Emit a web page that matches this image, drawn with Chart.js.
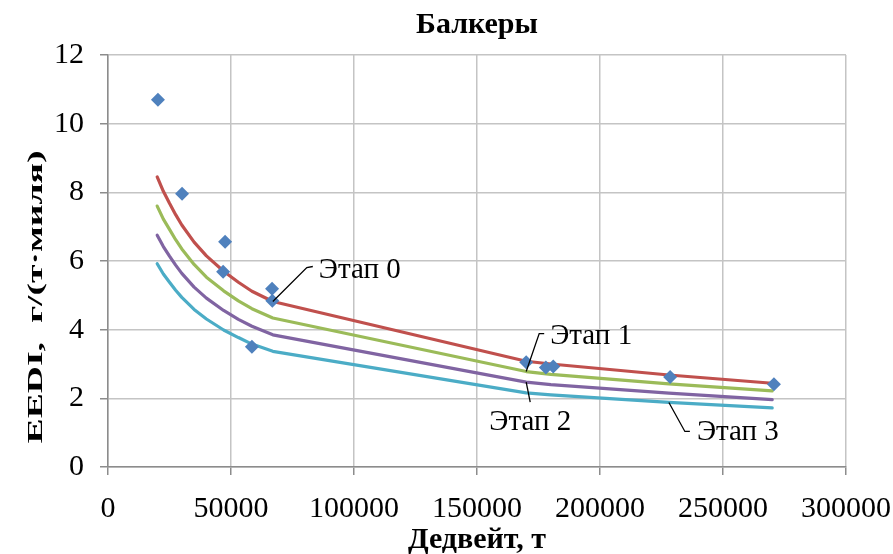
<!DOCTYPE html>
<html>
<head>
<meta charset="utf-8">
<script src="https://cdn.jsdelivr.net/npm/chart.js@4/dist/chart.umd.min.js"></script>
<style>
  html, body { margin: 0; padding: 0; background: #ffffff; }
  #wrap { width: 893px; height: 554px; position: relative; }
</style>
</head>
<body>
<div id="wrap"><canvas id="c" width="893" height="554"></canvas></div>
<script>
// Дедвейт (т) for the reference lines
const lineDwt = [20000, 22500, 25000, 27500, 30000, 35000, 40000, 47000, 53000, 58500, 67000, 170000, 180000, 228000, 270000];
// EEDI reference lines, г/(т·миля)
const stage0 = [8.45, 8.03, 7.68, 7.35, 7.05, 6.55, 6.15, 5.70, 5.38, 5.12, 4.82, 3.08, 3.00, 2.68, 2.44];
const stage1 = [7.60, 7.22, 6.92, 6.62, 6.35, 5.90, 5.53, 5.13, 4.84, 4.61, 4.34, 2.78, 2.70, 2.42, 2.22];
const stage2 = [6.75, 6.42, 6.14, 5.88, 5.64, 5.24, 4.92, 4.56, 4.30, 4.10, 3.85, 2.47, 2.40, 2.15, 1.96];
const stage3 = [5.92, 5.62, 5.38, 5.15, 4.94, 4.59, 4.31, 3.99, 3.77, 3.58, 3.37, 2.16, 2.10, 1.88, 1.72];
// Individual bulk carriers
const shipDwt  = [20300, 30100, 47600, 46800, 66700, 66800, 58500, 170000, 178000, 181000, 228500, 270700];
const shipEedi = [10.70, 7.96, 6.56, 5.69, 5.19, 4.84, 3.50, 3.05, 2.90, 2.93, 2.62, 2.41];
// Axis ticks
const xTicks = [0, 50000, 100000, 150000, 200000, 250000, 300000];
const yTicks = [0, 2, 4, 6, 8, 10, 12];
const stageNames = ['Этап 0', 'Этап 1', 'Этап 2', 'Этап 3'];

const SERIF = '"Liberation Serif", "Times New Roman", serif';

const toXY = (xs, ys) => xs.map((x, i) => ({ x: x, y: ys[i] }));
const lineSet = (label, ys, color) => ({
  type: 'line', label: label, data: toXY(lineDwt, ys),
  borderColor: color, backgroundColor: color, borderWidth: 3.2,
  borderJoinStyle: 'round', borderCapStyle: 'round',
  pointRadius: 0, tension: 0, order: 2
});

// Titles drawn around the plot area
const titles = {
  id: 'titles',
  afterDraw(chart) {
    const ctx = chart.ctx, a = chart.chartArea;
    const cx = (a.left + a.right) / 2;
    ctx.save();
    ctx.fillStyle = '#000';
    ctx.textAlign = 'center';
    ctx.textBaseline = 'middle';
    ctx.font = 'bold 30px ' + SERIF;
    ctx.fillText('Балкеры', cx, 25);
    ctx.font = 'bold 30px ' + SERIF;
    ctx.fillText('Дедвейт, т', cx, 540);
    // vertical axis title, stretched along its length
    ctx.font = 'bold 21px ' + SERIF;
    const label = 'EEDI,  г/(т·миля)';
    const w = ctx.measureText(label).width;
    ctx.translate(42, 297);
    ctx.rotate(-Math.PI / 2);
    ctx.scale(293 / w, 1);
    ctx.textBaseline = 'alphabetic';
    ctx.fillText(label, 0, 0);
    ctx.restore();
  }
};

// Stage labels with leader lines pointing to the curves
const stageLabels = {
  id: 'stageLabels',
  afterDatasetsDraw(chart) {
    const ctx = chart.ctx, xs = chart.scales.x, ys = chart.scales.y;
    const at = (series, k) => ({ x: xs.getPixelForValue(lineDwt[k]), y: ys.getPixelForValue(series[k]) });
    const iA = lineDwt.indexOf(67000), iB = lineDwt.indexOf(170000), iC = lineDwt.indexOf(228000);
    const items = [
      { p: at(stage0, iA), path: [[34, -34], [40, -35]], tx: 46, ty: -31, align: 'left', text: stageNames[0] },
      { p: at(stage1, iB), path: [[13, -38], [18, -38]], tx: 24, ty: -35, align: 'left', text: stageNames[1] },
      { p: at(stage2, iB), path: [[4, 20]], tx: 4, ty: 40, align: 'center', text: stageNames[2] },
      { p: at(stage3, iC), path: [[16, 29], [21, 29]], tx: 28, ty: 30, align: 'left', text: stageNames[3] }
    ];
    ctx.save();
    ctx.strokeStyle = '#000';
    ctx.lineWidth = 1.3;
    ctx.fillStyle = '#000';
    ctx.font = '29px ' + SERIF;
    ctx.textBaseline = 'middle';
    items.forEach(it => {
      ctx.beginPath();
      ctx.moveTo(it.p.x, it.p.y);
      it.path.forEach(([dx, dy]) => ctx.lineTo(it.p.x + dx, it.p.y + dy));
      ctx.stroke();
      ctx.textAlign = it.align;
      ctx.fillText(it.text, it.p.x + it.tx, it.p.y + it.ty);
    });
    ctx.restore();
  }
};

new Chart(document.getElementById('c'), {
  type: 'scatter',
  data: {
    datasets: [
      lineSet(stageNames[0], stage0, '#C0504D'),
      lineSet(stageNames[1], stage1, '#9BBB59'),
      lineSet(stageNames[2], stage2, '#8064A2'),
      lineSet(stageNames[3], stage3, '#4BACC6'),
      {
        type: 'scatter', label: 'Суда', data: toXY(shipDwt, shipEedi),
        pointStyle: 'rectRot', pointRadius: 7, pointHoverRadius: 7,
        backgroundColor: '#4F81BD', borderColor: '#4F81BD', borderWidth: 0, order: 1
      }
    ]
  },
  options: {
    responsive: false,
    animation: false,
    events: [],
    layout: { padding: { left: 0, right: 47, top: 55, bottom: 0 } },
    plugins: { legend: { display: false }, title: { display: false }, tooltip: { enabled: false } },
    scales: {
      x: {
        type: 'linear', min: 0, max: 300000,
        afterBuildTicks: s => { s.ticks = xTicks.map(v => ({ value: v })); },
        afterFit: s => { s.height = 87; s.paddingLeft = 0; s.paddingRight = 0; },
        ticks: { font: { family: SERIF, size: 30 }, color: '#000', padding: 16, maxRotation: 0,
                 callback: v => String(v) },
        grid: { color: '#c4c4c4', lineWidth: 1.5, tickLength: 8, tickColor: '#8c8c8c' },
        border: { color: '#8c8c8c', width: 1.5 }
      },
      y: {
        type: 'linear', min: 0, max: 12,
        afterBuildTicks: s => { s.ticks = yTicks.map(v => ({ value: v })); },
        afterFit: s => { s.width = 108; s.paddingTop = 0; s.paddingBottom = 0; },
        ticks: { font: { family: SERIF, size: 30 }, color: '#000', padding: 16 },
        grid: { color: '#c4c4c4', lineWidth: 1.5, tickLength: 8, tickColor: '#8c8c8c' },
        border: { color: '#8c8c8c', width: 1.5 }
      }
    }
  },
  plugins: [titles, stageLabels]
});
</script>
</body>
</html>
